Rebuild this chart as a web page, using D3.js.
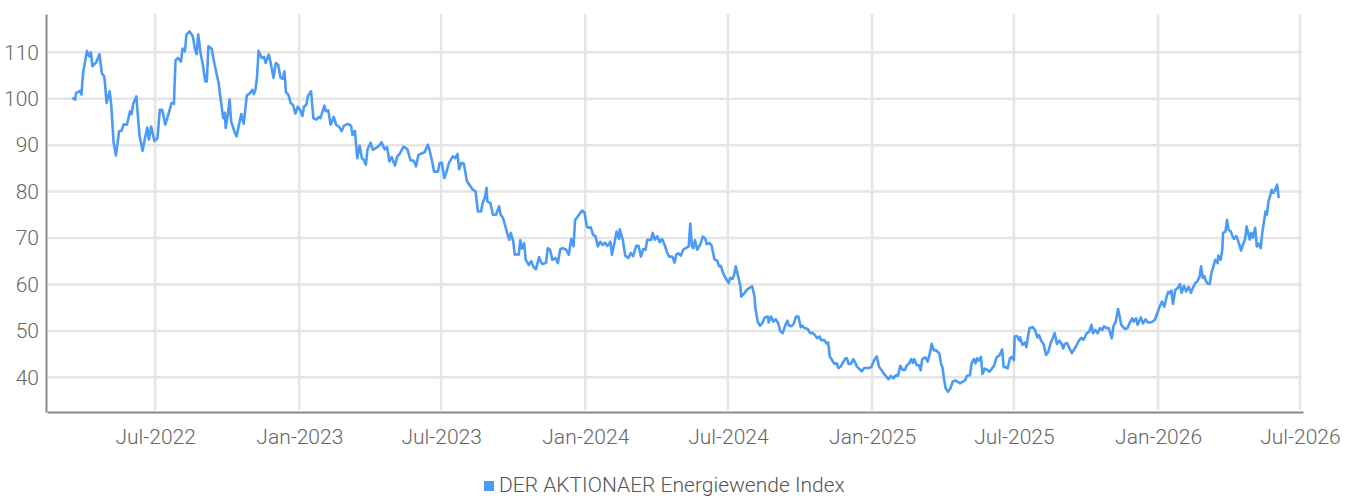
<!DOCTYPE html>
<html lang="de">
<head>
<meta charset="utf-8">
<title>DER AKTIONAER Energiewende Index</title>
<script src="https://d3js.org/d3.v7.min.js"></script>
<style>
  body { margin: 0; background: #fff; }
  text { font-family: Roboto, "Noto Sans", sans-serif; font-weight: 300; }
</style>
</head>
<body>
<script>
// series (date, index level)
var dates = [
  "2022-03-17","2022-03-21","2022-03-22","2022-03-27","2022-03-29","2022-03-31",
  "2022-04-05","2022-04-08","2022-04-10","2022-04-12","2022-04-17","2022-04-21","2022-04-24","2022-04-27","2022-04-28","2022-04-30",
  "2022-05-04","2022-05-06","2022-05-09","2022-05-12","2022-05-16","2022-05-19","2022-05-22","2022-05-26","2022-05-30",
  "2022-06-01","2022-06-03","2022-06-07","2022-06-11","2022-06-15","2022-06-18","2022-06-21","2022-06-23","2022-06-26","2022-06-30",
  "2022-07-04","2022-07-07","2022-07-10","2022-07-14","2022-07-18","2022-07-22","2022-07-25","2022-07-27","2022-07-30",
  "2022-08-03","2022-08-05","2022-08-08","2022-08-10","2022-08-14","2022-08-18","2022-08-21","2022-08-23","2022-08-25","2022-08-28","2022-08-31",
  "2022-09-03","2022-09-05","2022-09-07","2022-09-11","2022-09-15","2022-09-20","2022-09-23","2022-09-26","2022-09-28","2022-09-29",
  "2022-10-02","2022-10-04","2022-10-06","2022-10-11","2022-10-13","2022-10-16","2022-10-19","2022-10-22","2022-10-26","2022-10-30",
  "2022-11-02","2022-11-04","2022-11-06","2022-11-08","2022-11-10","2022-11-14","2022-11-17","2022-11-19","2022-11-23","2022-11-26","2022-11-29",
  "2022-12-02","2022-12-05","2022-12-08","2022-12-11","2022-12-13","2022-12-15","2022-12-18","2022-12-21","2022-12-24","2022-12-27","2022-12-30",
  "2023-01-02","2023-01-05","2023-01-07","2023-01-10","2023-01-12","2023-01-16","2023-01-19","2023-01-23","2023-01-26","2023-01-28",
  "2023-02-02","2023-02-04","2023-02-07","2023-02-10","2023-02-14","2023-02-17","2023-02-21","2023-02-24","2023-02-27",
  "2023-03-04","2023-03-08","2023-03-10","2023-03-13","2023-03-16","2023-03-19","2023-03-22","2023-03-24","2023-03-27","2023-03-29",
  "2023-04-02","2023-04-05","2023-04-09","2023-04-13","2023-04-16","2023-04-20","2023-04-23","2023-04-26","2023-04-29",
  "2023-05-03","2023-05-06","2023-05-09","2023-05-14","2023-05-19","2023-05-23","2023-05-27","2023-05-30",
  "2023-06-02","2023-06-06","2023-06-10","2023-06-14","2023-06-16","2023-06-19","2023-06-22","2023-06-27","2023-06-29",
  "2023-07-02","2023-07-05","2023-07-08","2023-07-11","2023-07-16","2023-07-19","2023-07-22","2023-07-24","2023-07-27","2023-07-30",
  "2023-08-03","2023-08-06","2023-08-10","2023-08-14","2023-08-17","2023-08-21","2023-08-23","2023-08-26","2023-08-28","2023-08-29",
  "2023-09-02","2023-09-05","2023-09-09","2023-09-13","2023-09-15","2023-09-18","2023-09-21","2023-09-24","2023-09-26","2023-09-28",
  "2023-10-01","2023-10-03","2023-10-06","2023-10-08","2023-10-10","2023-10-12","2023-10-15","2023-10-17","2023-10-21","2023-10-24","2023-10-27","2023-10-30",
  "2023-11-03","2023-11-06","2023-11-08","2023-11-12","2023-11-14","2023-11-17","2023-11-20","2023-11-24","2023-11-27","2023-11-30",
  "2023-12-03","2023-12-07","2023-12-11","2023-12-14","2023-12-17","2023-12-19","2023-12-23","2023-12-28","2023-12-31",
  "2024-01-03","2024-01-05","2024-01-08","2024-01-11","2024-01-14","2024-01-17","2024-01-20","2024-01-23","2024-01-26","2024-01-29",
  "2024-02-02","2024-02-04","2024-02-07","2024-02-10","2024-02-13","2024-02-14","2024-02-18","2024-02-21","2024-02-25","2024-02-28",
  "2024-03-02","2024-03-06","2024-03-09","2024-03-12","2024-03-15","2024-03-18","2024-03-20","2024-03-25","2024-03-27","2024-03-30",
  "2024-04-02","2024-04-05","2024-04-08","2024-04-11","2024-04-14","2024-04-17","2024-04-21","2024-04-24","2024-04-26","2024-04-29",
  "2024-05-02","2024-05-05","2024-05-10","2024-05-12","2024-05-14","2024-05-16","2024-05-18","2024-05-20","2024-05-23","2024-05-27","2024-05-30",
  "2024-06-02","2024-06-04","2024-06-07","2024-06-10","2024-06-14","2024-06-17","2024-06-20","2024-06-22","2024-06-25","2024-06-28",
  "2024-07-02","2024-07-04","2024-07-07","2024-07-09","2024-07-11","2024-07-14","2024-07-17","2024-07-18","2024-07-22","2024-07-25","2024-07-28",
  "2024-08-01","2024-08-04","2024-08-05","2024-08-08","2024-08-11","2024-08-14","2024-08-17","2024-08-21","2024-08-22","2024-08-25","2024-08-28","2024-08-31",
  "2024-09-03","2024-09-06","2024-09-09","2024-09-12","2024-09-15","2024-09-17","2024-09-20","2024-09-23","2024-09-26","2024-09-29",
  "2024-10-02","2024-10-04","2024-10-07","2024-10-11","2024-10-14","2024-10-17","2024-10-20","2024-10-23","2024-10-26","2024-10-28",
  "2024-11-01","2024-11-04","2024-11-06","2024-11-08","2024-11-10","2024-11-12","2024-11-14","2024-11-17","2024-11-19","2024-11-22","2024-11-25","2024-11-28","2024-11-30",
  "2024-12-02","2024-12-05","2024-12-08","2024-12-11","2024-12-13","2024-12-16","2024-12-19","2024-12-22","2024-12-25","2024-12-28","2024-12-31",
  "2025-01-04","2025-01-07","2025-01-10","2025-01-13","2025-01-16","2025-01-20","2025-01-22","2025-01-25","2025-01-28",
  "2025-02-01","2025-02-03","2025-02-06","2025-02-09","2025-02-12","2025-02-14","2025-02-17","2025-02-20","2025-02-22","2025-02-24","2025-02-27",
  "2025-03-02","2025-03-04","2025-03-06","2025-03-10","2025-03-13","2025-03-16","2025-03-18","2025-03-21","2025-03-24","2025-03-28","2025-03-30",
  "2025-04-01","2025-04-03","2025-04-05","2025-04-08","2025-04-11","2025-04-14","2025-04-17","2025-04-20","2025-04-23","2025-04-27","2025-04-30",
  "2025-05-02","2025-05-06","2025-05-08","2025-05-11","2025-05-13","2025-05-15","2025-05-17","2025-05-20","2025-05-22","2025-05-25","2025-05-28","2025-05-31",
  "2025-06-03","2025-06-06","2025-06-09","2025-06-12","2025-06-14","2025-06-16","2025-06-18","2025-06-21","2025-06-23","2025-06-26","2025-06-28",
  "2025-07-01","2025-07-02","2025-07-05","2025-07-08","2025-07-09","2025-07-12","2025-07-15","2025-07-17","2025-07-19","2025-07-21","2025-07-25","2025-07-28","2025-07-31",
  "2025-08-02","2025-08-05","2025-08-08","2025-08-11","2025-08-14","2025-08-17","2025-08-20","2025-08-22","2025-08-25","2025-08-28","2025-08-31",
  "2025-09-02","2025-09-04","2025-09-07","2025-09-10","2025-09-13","2025-09-16","2025-09-19","2025-09-22","2025-09-25","2025-09-28",
  "2025-10-02","2025-10-05","2025-10-08","2025-10-10","2025-10-13","2025-10-16","2025-10-19","2025-10-22","2025-10-24","2025-10-27","2025-10-30",
  "2025-11-03","2025-11-05","2025-11-08","2025-11-11","2025-11-13","2025-11-15","2025-11-20","2025-11-23","2025-11-26","2025-11-29",
  "2025-12-01","2025-12-04","2025-12-06","2025-12-10","2025-12-13","2025-12-16","2025-12-19","2025-12-22","2025-12-25","2025-12-28","2025-12-31",
  "2026-01-03","2026-01-06","2026-01-09","2026-01-12","2026-01-14","2026-01-16","2026-01-18","2026-01-20","2026-01-23","2026-01-26","2026-01-29","2026-01-31",
  "2026-02-03","2026-02-06","2026-02-09","2026-02-12","2026-02-15","2026-02-18","2026-02-20","2026-02-23","2026-02-25","2026-02-27",
  "2026-03-01","2026-03-03","2026-03-05","2026-03-08","2026-03-10","2026-03-12","2026-03-15","2026-03-18","2026-03-19","2026-03-22","2026-03-24","2026-03-25","2026-03-28","2026-03-30",
  "2026-04-01","2026-04-04","2026-04-06","2026-04-08","2026-04-11","2026-04-13","2026-04-15","2026-04-17","2026-04-19","2026-04-22","2026-04-24","2026-04-26","2026-04-28","2026-04-30",
  "2026-05-02","2026-05-05","2026-05-07","2026-05-09","2026-05-12","2026-05-14","2026-05-17","2026-05-18","2026-05-20","2026-05-22","2026-05-24","2026-05-26","2026-05-28","2026-05-30",
  "2026-06-01","2026-06-02","2026-06-04"
];

var values = [
  100.2,99.8,101.2,101.7,100.9,105.5,
  110.3,109.1,110.0,107.0,107.9,109.6,105.5,104.8,103.4,99.1,
  101.6,98.7,90.5,87.8,93.0,93.1,94.5,94.4,97.3,
  96.7,98.9,100.5,92.2,88.8,91.5,93.8,91.2,94.0,90.9,
  91.5,97.6,97.6,94.4,96.7,99.1,98.9,108.2,108.8,
  108.0,110.8,110.2,113.8,114.5,113.5,110.6,109.6,113.8,109.8,107.3,
  103.7,103.7,111.3,110.8,107.3,103.4,99.4,95.8,97.0,93.7,
  96.8,99.8,95.1,92.6,91.9,94.4,96.7,94.6,100.7,101.2,
  101.9,101.0,101.9,104.5,110.3,108.8,109.0,107.7,109.5,107.3,104.5,
  107.7,107.3,104.5,104.3,105.9,101.4,100.9,99.1,98.7,96.8,98.3,
  97.6,96.3,98.3,98.7,100.6,101.6,95.8,95.5,96.1,95.8,
  98.5,97.3,97.5,94.4,96.1,94.4,93.9,93.0,94.2,
  94.6,94.2,92.2,93.1,87.2,89.9,87.2,86.9,85.8,89.0,
  90.5,89.0,89.4,89.9,90.6,89.1,89.6,86.5,87.4,
  85.6,87.6,88.1,89.7,89.1,86.7,86.7,85.4,
  87.9,88.2,88.5,90.1,89.1,86.9,84.3,84.3,86.1,
  86.2,82.9,84.3,86.2,87.6,87.2,88.1,84.8,86.2,86.0,
  82.2,81.5,80.5,80.0,75.7,75.7,77.5,78.8,80.8,77.9,
  77.5,75.0,75.0,76.8,75.0,74.3,72.5,70.7,69.6,71.1,
  69.3,66.4,66.5,66.4,69.5,67.7,68.9,65.3,64.2,65.0,63.7,63.3,
  65.9,64.6,64.4,64.7,67.8,67.5,65.3,65.7,64.6,67.6,
  67.8,67.6,66.4,69.8,68.2,73.9,74.8,75.9,75.5,
  72.5,72.2,72.3,70.7,70.4,68.2,69.2,68.5,69.0,68.3,
  69.2,66.4,68.8,71.4,69.8,71.9,69.5,66.2,65.7,66.8,
  66.1,68.3,68.3,66.0,67.6,67.5,69.6,69.6,71.1,69.6,
  70.4,69.1,69.8,68.6,67.1,66.0,66.0,64.7,66.4,66.7,
  66.2,67.5,68.0,68.2,73.1,68.3,67.8,69.5,67.5,68.7,70.3,
  69.9,68.7,68.9,68.5,65.3,65.2,63.9,64.0,62.4,61.4,
  60.3,61.4,61.2,62.1,63.9,61.8,59.6,57.4,58.1,58.8,59.2,
  59.6,57.4,55.1,52.0,51.1,51.7,52.9,53.1,51.8,53.1,52.0,52.5,
  51.7,49.9,49.5,51.1,52.2,51.1,51.0,51.5,53.1,53.1,
  50.8,51.1,50.6,50.4,49.5,49.6,49.1,48.4,48.8,48.0,
  48.0,47.3,47.5,44.5,44.0,43.4,42.9,43.0,42.0,42.3,43.2,44.1,44.1,
  42.9,42.9,43.9,43.0,42.2,41.8,41.3,42.0,42.0,42.0,42.2,
  43.8,44.5,42.3,41.6,40.8,40.0,39.6,40.3,39.8,
  40.5,40.3,42.5,41.6,41.6,42.5,42.9,43.9,43.1,43.9,42.6,
  42.6,41.5,43.9,44.3,43.4,45.3,47.2,45.8,45.8,45.1,42.9,
  42.0,39.4,37.6,36.9,37.6,39.1,39.3,39.1,38.7,39.1,39.4,
  40.3,40.5,43.0,43.9,43.0,44.1,43.6,44.4,40.7,41.9,41.6,41.2,
  41.9,42.6,44.3,44.6,45.3,46.0,42.2,42.2,41.9,44.1,44.4,
  43.7,48.8,48.9,47.9,48.6,47.0,47.5,46.5,48.8,50.6,50.8,50.2,48.6,
  49.1,47.8,47.1,44.8,45.5,47.4,48.6,49.5,47.2,47.9,47.2,
  46.2,47.2,47.4,46.2,45.2,46.0,46.9,47.9,48.5,48.1,
  49.5,49.8,51.3,49.5,50.2,49.5,50.6,50.2,51.0,50.6,50.6,
  48.4,51.0,52.0,54.7,53.1,51.3,50.4,50.6,51.8,52.7,
  52.0,52.7,51.3,52.9,51.6,52.5,51.8,51.8,52.0,52.4,53.8,
  55.2,56.3,55.2,57.4,58.4,58.1,58.7,55.8,58.8,59.2,60.1,58.2,
  59.7,58.5,59.5,58.2,59.5,60.4,60.6,61.7,63.9,61.4,
  61.8,60.8,60.2,60.1,62.4,63.5,65.3,64.6,66.2,65.3,67.5,71.1,71.4,73.9,
  71.8,71.4,70.4,69.8,70.4,69.5,68.4,67.3,68.4,69.7,72.5,71.1,69.7,71.1,
  70.1,72.2,68.2,68.8,67.8,71.1,74.3,75.7,75.0,77.9,79.0,80.4,79.7,80.2,
  81.1,81.5,78.6
];

var yTicks = [40, 50, 60, 70, 80, 90, 100, 110];
var xTicks = ["2022-07-01","2023-01-01","2023-07-01","2024-01-01","2024-07-01","2025-01-01","2025-07-01","2026-01-01","2026-07-01"];
var seriesName = "DER AKTIONAER Energiewende Index";

var width = 1358,
    height = 496;

var parse = d3.timeParse("%Y-%m-%d");
var data = dates.map(function(d, i) { return { date: parse(d), value: values[i] }; });

var svg = d3.select("body").append("svg")
    .attr("width", width)
    .attr("height", height);

var x = d3.scaleTime()
    .domain([parse("2022-02-13"), parse("2026-07-05")])
    .range([47, 1303]);

var y = d3.scaleLinear()
    .domain([32.53, 118.25])
    .range([412, 14]);

// grid
svg.append("g").selectAll("line.h")
    .data(yTicks)
  .enter().append("line")
    .attr("x1", 48).attr("x2", 1302)
    .attr("y1", function(d) { return y(d); })
    .attr("y2", function(d) { return y(d); })
    .attr("stroke", "#e5e5e5").attr("stroke-width", 2.5);

svg.append("g").selectAll("line.v")
    .data(xTicks.map(parse))
  .enter().append("line")
    .attr("x1", function(d) { return x(d); })
    .attr("x2", function(d) { return x(d); })
    .attr("y1", 14).attr("y2", 410)
    .attr("stroke", "#e5e5e5").attr("stroke-width", 2.5);

// axes
var yAxis = d3.axisLeft(y).tickValues(yTicks).tickSize(0).tickPadding(7);
var gy = svg.append("g").attr("transform", "translate(46,0)").call(yAxis);
gy.select(".domain").attr("stroke", "#8a8a8a").attr("stroke-width", 2);
gy.selectAll("text").attr("fill", "#666").style("font-size", "21px");

var xAxis = d3.axisBottom(x).tickValues(xTicks.map(parse)).tickSize(0).tickPadding(17)
    .tickFormat(d3.timeFormat("%b-%Y"));
var gx = svg.append("g").attr("transform", "translate(0,412)").call(xAxis);
gx.select(".domain").attr("stroke", "#8a8a8a").attr("stroke-width", 2);
gx.selectAll("text").attr("fill", "#666").style("font-size", "21px");

// series
var line = d3.line()
    .x(function(d) { return x(d.date); })
    .y(function(d) { return y(d.value); });

svg.append("path")
    .datum(data)
    .attr("fill", "none")
    .attr("stroke", "#4b9bf6")
    .attr("stroke-width", 2.6)
    .attr("stroke-linejoin", "round")
    .attr("d", line);

// legend
var legend = svg.append("g").attr("transform", "translate(484,484)");
legend.append("rect")
    .attr("x", 0).attr("y", -3).attr("width", 10).attr("height", 10)
    .attr("fill", "#4b9bf6");
legend.append("text")
    .attr("x", 15).attr("y", 8)
    .attr("fill", "#555")
    .style("font-size", "21px")
    .text(seriesName);
</script>
</body>
</html>
